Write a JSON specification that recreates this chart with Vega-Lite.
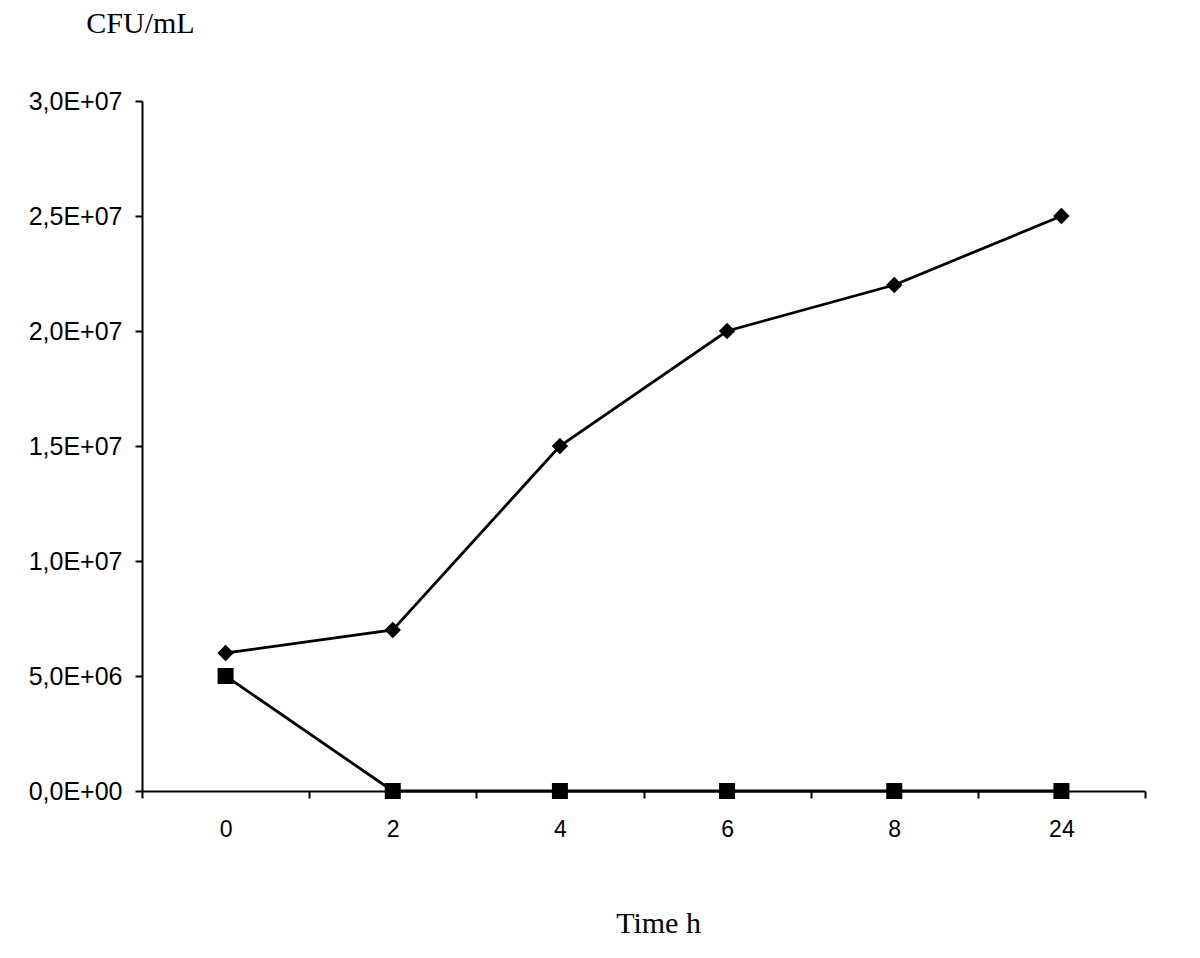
{
  "$schema": "https://vega.github.io/schema/vega-lite/v6.json",
  "autosize": "none",
  "width": 1003,
  "height": 690,
  "padding": {"left": 142, "top": 101, "right": 55, "bottom": 167},
  "background": "white",
  "config": {"view": {"stroke": null}},
  "data": {
    "values": [
      {"time": "0", "series": "A", "cfu": 6000000},
      {"time": "2", "series": "A", "cfu": 7000000},
      {"time": "4", "series": "A", "cfu": 15000000},
      {"time": "6", "series": "A", "cfu": 20000000},
      {"time": "8", "series": "A", "cfu": 22000000},
      {"time": "24", "series": "A", "cfu": 25000000},
      {"time": "0", "series": "B", "cfu": 5000000},
      {"time": "2", "series": "B", "cfu": 0},
      {"time": "4", "series": "B", "cfu": 0},
      {"time": "6", "series": "B", "cfu": 0},
      {"time": "8", "series": "B", "cfu": 0},
      {"time": "24", "series": "B", "cfu": 0}
    ]
  },
  "encoding": {
    "x": {
      "field": "time",
      "type": "ordinal",
      "sort": ["0", "2", "4", "6", "8", "24"],
      "scale": {"type": "band", "paddingInner": 0, "paddingOuter": 0},
      "axis": {
        "title": "Time h",
        "titleFont": "Liberation Serif",
        "titleFontSize": 30,
        "titleFontWeight": "normal",
        "titleColor": "black",
        "titleX": 516,
        "titleY": 141,
        "titleAlign": "center",
        "titleBaseline": "alphabetic",
        "labelAngle": 0,
        "labelFont": "Liberation Sans",
        "labelFontSize": 23,
        "labelColor": "black",
        "labelPadding": 31,
        "labelBaseline": "middle",
        "domainColor": "black",
        "domainWidth": 2,
        "tickColor": "black",
        "tickWidth": 2,
        "tickSize": 7,
        "tickBand": "extent",
        "grid": false
      }
    },
    "y": {
      "field": "cfu",
      "type": "quantitative",
      "scale": {"domain": [0, 30000000], "nice": false},
      "axis": {
        "title": "CFU/mL",
        "titleFont": "Liberation Serif",
        "titleFontSize": 30,
        "titleFontWeight": "normal",
        "titleColor": "black",
        "titleAngle": 0,
        "titleX": -2,
        "titleY": -69,
        "titleAlign": "center",
        "titleBaseline": "alphabetic",
        "values": [0, 5000000, 10000000, 15000000, 20000000, 25000000, 30000000],
        "labelExpr": "datum.value == 0 ? '0,0E+00' : datum.value == 5000000 ? '5,0E+06' : datum.value == 10000000 ? '1,0E+07' : datum.value == 15000000 ? '1,5E+07' : datum.value == 20000000 ? '2,0E+07' : datum.value == 25000000 ? '2,5E+07' : '3,0E+07'",
        "labelFont": "Liberation Sans",
        "labelFontSize": 25,
        "labelColor": "black",
        "labelPadding": 13,
        "domainColor": "black",
        "domainWidth": 2,
        "tickColor": "black",
        "tickWidth": 2,
        "tickSize": 7,
        "grid": false
      }
    },
    "detail": {"field": "series"}
  },
  "layer": [
    {
      "mark": {"type": "line", "color": "black", "strokeWidth": 2.8}
    },
    {
      "mark": {"type": "point", "filled": true, "color": "black", "opacity": 1},
      "encoding": {
        "shape": {
          "field": "series",
          "type": "nominal",
          "scale": {"domain": ["A", "B"], "range": ["diamond", "square"]},
          "legend": null
        },
        "size": {
          "field": "series",
          "type": "nominal",
          "scale": {"domain": ["A", "B"], "range": [270, 256]},
          "legend": null
        }
      }
    }
  ]
}
